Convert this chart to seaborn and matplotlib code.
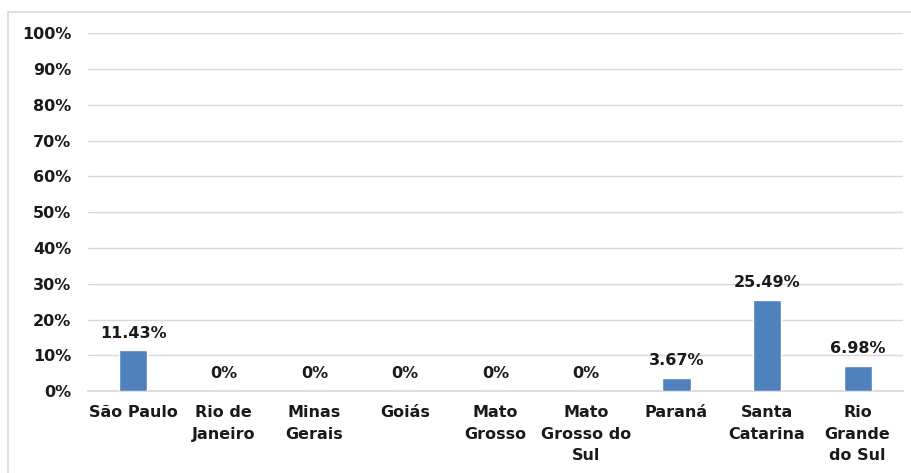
import matplotlib
matplotlib.use("Agg")
import matplotlib.pyplot as plt
import matplotlib.patches as patches
from matplotlib.ticker import PercentFormatter
import seaborn as sns
import pandas as pd

# Dados do gráfico
estados = ["São Paulo", "Rio de\nJaneiro", "Minas\nGerais", "Goiás", "Mato\nGrosso",
           "Mato\nGrosso do\nSul", "Paraná", "Santa\nCatarina", "Rio\nGrande\ndo Sul"]
valores = [11.43, 0, 0, 0, 0, 0, 3.67, 25.49, 6.98]
rotulos = ["11.43%", "0%", "0%", "0%", "0%", "0%", "3.67%", "25.49%", "6.98%"]

df = pd.DataFrame({"Estado": estados, "Valor": valores})

sns.set_theme(style="white")
plt.rcParams['font.family'] = ['DejaVu Sans']

fig = plt.figure(figsize=(9.12, 4.73), dpi=100)
ax = fig.add_axes([0.0965, 0.173, 0.8935, 0.757])

sns.barplot(data=df, x="Estado", y="Valor", color="#4F81BD", width=0.31,
            saturation=1, ax=ax, zorder=3)

ax.set_ylim(0, 100)
ax.set_xlim(-0.5, 8.5)
ax.set_yticks(range(0, 101, 10))
ax.yaxis.set_major_formatter(PercentFormatter(decimals=0))
ax.grid(axis="y", color="#D9D9D9", linewidth=1, zorder=0)
ax.set_xlabel("")
ax.set_ylabel("")
for s in ["top", "right", "left"]:
    ax.spines[s].set_visible(False)
ax.spines["bottom"].set_color("#D9D9D9")
ax.tick_params(axis="both", length=0, labelsize=11.5, colors="#1a1a1a")
ax.tick_params(axis="y", pad=12)
ax.tick_params(axis="x", pad=10)
for lbl in ax.get_xticklabels() + ax.get_yticklabels():
    lbl.set_fontweight("bold")
for lbl in ax.get_xticklabels():
    lbl.set_linespacing(1.55)

for i, (v, t) in enumerate(zip(valores, rotulos)):
    ax.annotate(t, (i, v), xytext=(0, 7), textcoords="offset points",
                ha="center", va="bottom", fontsize=11.5, fontweight="bold",
                color="#1a1a1a")

# moldura do gráfico
fig.patches.append(patches.Rectangle((8 / 912, -0.05), 1.0, (473 - 12) / 473 + 0.05,
                                     transform=fig.transFigure, fill=False,
                                     edgecolor="#D9D9D9", linewidth=1.2))

fig.savefig("out.png", dpi=100)
